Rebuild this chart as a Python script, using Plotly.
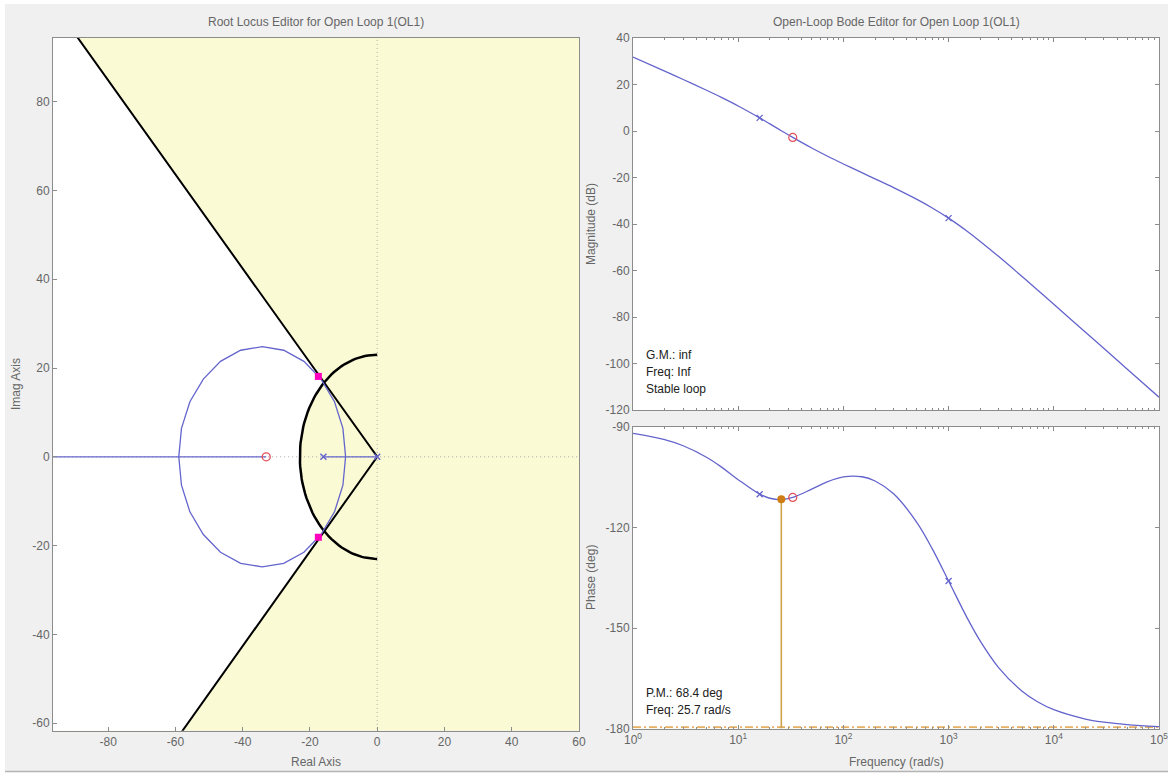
import numpy as np
import plotly.graph_objects as go

# ---------------- data ----------------
# Root locus (complex plane)
locus_re = [-9.4, -10.2, -12.7, -16.7, -21.8, -27.8, -34.2, -40.6, -46.6, -51.7, -55.7, -58.2, -59.0,
            -58.2, -55.7, -51.7, -46.6, -40.6, -34.2, -27.8, -21.8, -16.7, -12.7, -10.2, -9.4]
locus_im = [0.0, 6.4, 12.4, 17.5, 21.5, 24.0, 24.8, 24.0, 21.5, 17.5, 12.4, 6.4, 0.0,
            -6.4, -12.4, -17.5, -21.5, -24.0, -24.8, -24.0, -21.5, -17.5, -12.4, -6.4, 0.0]
branch_left_re = [-120.0, -33.0]
branch_right_re = [-16.0, 0.0]
ol_poles_re = [0.0, -16.0]
ol_zeros_re = [-33.0]
cl_poles_re = [-17.5, -17.5]
cl_poles_im = [18.1, -18.1]
zeta_req = 0.69        # damping-ratio constraint
wn_req = 23.0          # natural-frequency constraint

# Bode data
freq = [1, 2, 3, 5, 7, 10, 16, 20, 25.7, 33, 50, 70, 100, 150, 200, 300, 500, 700, 1000,
        1500, 2000, 3000, 5000, 7000, 10000, 20000, 30000, 50000, 100000]
mag_db = [31.79, 25.74, 22.16, 17.52, 14.34, 10.76, 5.64, 3.06, 0.13, -2.76, -7.32, -10.75, -14.18,
          -17.94, -20.58, -24.35, -29.41, -33.10, -37.49, -43.12, -47.49, -54.02, -62.61, -68.37,
          -74.52, -86.53, -93.57, -102.44, -114.48]
phase_deg = [-91.90, -93.77, -95.60, -99.02, -102.05, -105.72, -110.05, -111.27, -111.65, -111.03,
             -108.54, -106.36, -104.88, -104.85, -106.11, -109.93, -118.52, -126.38, -135.97,
             -146.96, -153.92, -161.89, -168.89, -172.01, -174.39, -177.18, -178.12, -178.87, -179.44]
bode_pole_freq = [16, 1000]
bode_pole_mag = [5.64, -37.49]
bode_pole_phase = [-110.05, -135.97]
bode_zero_freq = [33]
bode_zero_mag = [-2.76]
bode_zero_phase = [-111.03]
pm_freq = 25.7
pm_phase = -111.6
phase_ref = -179.6

rl_xrange = [-96.4, 60.0]
rl_yrange = [-61.7, 94.4]
rl_xticks = [-80, -60, -40, -20, 0, 20, 40, 60]
rl_yticks = [-60, -40, -20, 0, 20, 40, 60, 80]
mag_ticks = [-120, -100, -80, -60, -40, -20, 0, 20, 40]
phase_ticks = [-180, -150, -120, -90]
freq_tick_exp = [0, 1, 2, 3, 4, 5]

# ---------------- styling ----------------
W, H = 1168, 774
FONT = "Liberation Sans"
GRAY_TXT = "#666666"
FRAME = "#8c8c8c"
BLUE = "rgb(100,100,205)"
RED = "rgb(225,80,90)"
MAGENTA = "rgb(255,0,190)"
YELLOW = "rgb(250,250,212)"
PM_LINE = "rgb(205,165,70)"
PM_DOT = "rgb(205,125,20)"
PANEL = "#f0f0f0"


def px(xp):
    return xp / W


def py(yp):
    return 1 - yp / H


fig = go.Figure()

# ---- root locus: white (allowed) region over yellow background ----
psi = np.arccos(zeta_req)
tn = np.tan(psi)
x_top = -rl_yrange[1] / tn
x_bot = rl_yrange[0] / tn
arc_ang = np.linspace(np.pi + psi, np.pi - psi, 60)
poly_x = [x_top, rl_xrange[0] - 1, rl_xrange[0] - 1, x_bot] + list(wn_req * np.cos(arc_ang)) + [x_top]
poly_y = [rl_yrange[1] + 1, rl_yrange[1] + 1, rl_yrange[0] - 1, rl_yrange[0] - 1] + list(wn_req * np.sin(arc_ang)) + [rl_yrange[1] + 1]
fig.add_trace(go.Scatter(x=poly_x, y=poly_y, mode="lines", fill="toself", fillcolor="white",
                         line=dict(width=0, color="white"), hoverinfo="skip", xaxis="x", yaxis="y"))

# dotted axes through the origin
fig.add_trace(go.Scatter(x=[0, 0], y=[rl_yrange[0] - 5, rl_yrange[1] + 5], mode="lines",
                         line=dict(color="#a8a8a8", width=1, dash="1px,3px"), xaxis="x", yaxis="y"))
fig.add_trace(go.Scatter(x=[rl_xrange[0] - 5, rl_xrange[1] + 5], y=[0, 0], mode="lines",
                         line=dict(color="#a8a8a8", width=1, dash="1px,3px"), xaxis="x", yaxis="y"))

# damping lines
fig.add_trace(go.Scatter(x=[x_top, 0, x_bot], y=[rl_yrange[1] + 1, 0, rl_yrange[0] - 1], mode="lines",
                         line=dict(color="black", width=2), xaxis="x", yaxis="y"))
# natural frequency arc
arc2 = np.linspace(np.pi / 2, 3 * np.pi / 2, 80)
fig.add_trace(go.Scatter(x=wn_req * np.cos(arc2), y=wn_req * np.sin(arc2), mode="lines",
                         line=dict(color="black", width=2.5), xaxis="x", yaxis="y"))

# locus branches
fig.add_trace(go.Scatter(x=locus_re, y=locus_im, mode="lines", line=dict(color=BLUE, width=1.3),
                         xaxis="x", yaxis="y"))
fig.add_trace(go.Scatter(x=branch_left_re, y=[0, 0], mode="lines", line=dict(color=BLUE, width=1.3),
                         xaxis="x", yaxis="y"))
fig.add_trace(go.Scatter(x=branch_right_re, y=[0, 0], mode="lines", line=dict(color=BLUE, width=1.3),
                         xaxis="x", yaxis="y"))
fig.add_trace(go.Scatter(x=ol_zeros_re, y=[0] * len(ol_zeros_re), mode="markers",
                         marker=dict(symbol="circle-open", size=8, color=RED, line=dict(width=1.3)),
                         xaxis="x", yaxis="y"))
fig.add_trace(go.Scatter(x=ol_poles_re, y=[0] * len(ol_poles_re), mode="markers",
                         marker=dict(symbol="x-thin-open", size=6, color=BLUE, line=dict(width=1.5, color=BLUE)),
                         xaxis="x", yaxis="y"))
fig.add_trace(go.Scatter(x=cl_poles_re, y=cl_poles_im, mode="markers",
                         marker=dict(symbol="square", size=7, color=MAGENTA),
                         xaxis="x", yaxis="y"))

# ---- Bode magnitude ----
fig.add_trace(go.Scatter(x=freq, y=mag_db, mode="lines", line=dict(color=BLUE, width=1.3, shape="spline"),
                         xaxis="x2", yaxis="y2"))
fig.add_trace(go.Scatter(x=bode_pole_freq, y=bode_pole_mag, mode="markers",
                         marker=dict(symbol="x-thin-open", size=6, color=BLUE, line=dict(width=1.3, color=BLUE)),
                         xaxis="x2", yaxis="y2"))
fig.add_trace(go.Scatter(x=bode_zero_freq, y=bode_zero_mag, mode="markers",
                         marker=dict(symbol="circle-open", size=8, color=RED, line=dict(width=1.2)),
                         xaxis="x2", yaxis="y2"))

# ---- Bode phase ----
fig.add_trace(go.Scatter(x=[1, 100000], y=[phase_ref, phase_ref], mode="lines",
                         line=dict(color="rgb(230,175,100)", width=1.6, dash="8px,3px,2px,3px"),
                         xaxis="x3", yaxis="y3"))
fig.add_trace(go.Scatter(x=[pm_freq, pm_freq], y=[pm_phase, -180], mode="lines",
                         line=dict(color=PM_LINE, width=1.6), xaxis="x3", yaxis="y3"))
fig.add_trace(go.Scatter(x=freq, y=phase_deg, mode="lines", line=dict(color=BLUE, width=1.3, shape="spline"),
                         xaxis="x3", yaxis="y3"))
fig.add_trace(go.Scatter(x=bode_pole_freq, y=bode_pole_phase, mode="markers",
                         marker=dict(symbol="x-thin-open", size=6, color=BLUE, line=dict(width=1.3, color=BLUE)),
                         xaxis="x3", yaxis="y3"))
fig.add_trace(go.Scatter(x=bode_zero_freq, y=bode_zero_phase, mode="markers",
                         marker=dict(symbol="circle-open", size=8, color=RED, line=dict(width=1.2)),
                         xaxis="x3", yaxis="y3"))
fig.add_trace(go.Scatter(x=[pm_freq], y=[pm_phase], mode="markers",
                         marker=dict(symbol="circle", size=8, color=PM_DOT),
                         xaxis="x3", yaxis="y3"))

# ---------------- axes ----------------
tickfont = dict(family=FONT, size=12, color=GRAY_TXT)
common = dict(showgrid=False, zeroline=False, showline=True, linecolor=FRAME, linewidth=1,
              ticks="inside", tickcolor=FRAME, ticklen=4, tickfont=tickfont, automargin=False,
              ticklabeloverflow="allow")

minor_vals = [m * 10 ** e for e in range(0, 5) for m in range(2, 10)]


def labels(vals):
    return [str(v) for v in vals]


fig.update_layout(
    xaxis=dict(domain=[px(53), px(579)], range=rl_xrange, tickvals=rl_xticks, ticktext=labels(rl_xticks),
               mirror=True, anchor="y", **common),
    yaxis=dict(domain=[py(730.7), py(37.7)], range=rl_yrange, tickvals=rl_yticks, ticktext=labels(rl_yticks),
               mirror=True, anchor="x", **common),
    xaxis2=dict(domain=[px(633), px(1159)], type="log", range=[0, 5], mirror="ticks", anchor="y2",
                tickvals=[10 ** e for e in freq_tick_exp], showticklabels=False,
                minor=dict(tickvals=minor_vals, ticks="inside", ticklen=2, tickcolor=FRAME),
                **common),
    yaxis2=dict(domain=[py(410), py(38)], range=[-120, 40], tickvals=mag_ticks, ticktext=labels(mag_ticks),
                mirror="ticks", anchor="x2", **common),
    xaxis3=dict(domain=[px(633), px(1159)], type="log", range=[0, 5], mirror="ticks", anchor="y3",
                tickvals=[10 ** e for e in freq_tick_exp],
                ticktext=["10<sup>%d</sup>" % e for e in freq_tick_exp],
                minor=dict(tickvals=minor_vals, ticks="inside", ticklen=2, tickcolor=FRAME),
                **common),
    yaxis3=dict(domain=[py(728.5), py(427)], range=[-180, -90], tickvals=phase_ticks,
                ticktext=labels(phase_ticks), mirror="ticks", anchor="x3", **common),
    plot_bgcolor=YELLOW,
    paper_bgcolor=PANEL,
    width=W, height=H,
    autosize=False,
    margin=dict(l=0, r=0, t=0, b=0, pad=0),
    showlegend=False,
    font=dict(family=FONT, size=12, color=GRAY_TXT),
)

# white outer border strips, bottom separator, white plot areas for the Bode axes
shapes = [
    dict(type="rect", xref="paper", yref="paper", x0=0, x1=px(5), y0=0, y1=1,
         fillcolor="white", line=dict(width=0), layer="below"),
    dict(type="rect", xref="paper", yref="paper", x0=0, x1=1, y0=py(4), y1=1,
         fillcolor="white", line=dict(width=0), layer="below"),
    dict(type="rect", xref="paper", yref="paper", x0=0, x1=1, y0=0, y1=py(772),
         fillcolor="white", line=dict(width=0), layer="below"),
    dict(type="line", xref="paper", yref="paper", x0=px(5), x1=1, y0=py(771.5), y1=py(771.5),
         line=dict(color="#b4b4b4", width=1.5), layer="below"),
    dict(type="rect", xref="x2 domain", yref="y2 domain", x0=0, x1=1, y0=0, y1=1,
         fillcolor="white", line=dict(width=0), layer="below"),
    dict(type="rect", xref="x3 domain", yref="y3 domain", x0=0, x1=1, y0=0, y1=1,
         fillcolor="white", line=dict(width=0), layer="below"),
]
fig.update_layout(shapes=shapes)

title_font = dict(family=FONT, size=12, color=GRAY_TXT)
info_font = dict(family=FONT, size=12, color="#202020")
ann = [
    dict(text="Root Locus Editor for Open Loop 1(OL1)", x=px(316), y=py(22), font=title_font),
    dict(text="Open-Loop Bode Editor for Open Loop 1(OL1)", x=px(896), y=py(22), font=title_font),
    dict(text="Real Axis", x=px(316), y=py(762), font=title_font),
    dict(text="Frequency (rad/s)", x=px(896), y=py(762), font=title_font),
    dict(text="Imag Axis", x=px(16), y=py(384), font=title_font, textangle=-90),
    dict(text="Magnitude (dB)", x=px(591), y=py(224), font=title_font, textangle=-90),
    dict(text="Phase (deg)", x=px(591), y=py(578), font=title_font, textangle=-90),
]
for a in ann:
    a.update(xref="paper", yref="paper", showarrow=False, xanchor="center", yanchor="middle")
info = [
    ("G.M.: inf", 355), ("Freq: Inf", 372), ("Stable loop", 389),
    ("P.M.: 68.4 deg", 693), ("Freq: 25.7 rad/s", 710),
]
for t, yy in info:
    ann.append(dict(text=t, x=px(644), y=py(yy), xref="paper", yref="paper", showarrow=False,
                    xanchor="left", yanchor="middle", font=info_font))
fig.update_layout(annotations=ann)

fig.write_html("out.html", config={"displayModeBar": False},
               post_script="document.body.style.margin='0px';document.body.style.overflow='hidden';")
